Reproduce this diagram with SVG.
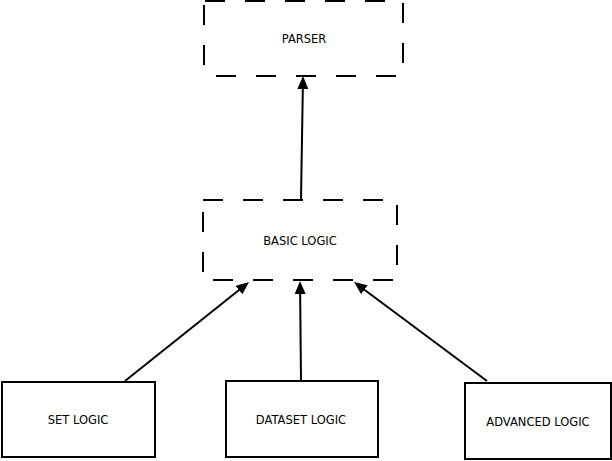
<svg xmlns="http://www.w3.org/2000/svg" width="612" height="461" viewBox="0 0 612 461">
  <style>
    .dash { stroke: #000; stroke-width: 2; fill: none; stroke-dasharray: 20 20; }
    .box { stroke: #000; stroke-width: 2; fill: #fff; }
    .lbl { font-family: "DejaVu Sans", Verdana, sans-serif; font-size: 11.5px; fill: #000; text-anchor: middle; }
    .conn { stroke: #000; stroke-width: 2; fill: none; marker-end: url(#arr); }
  </style>
  <defs>
    <marker id="arr" markerUnits="userSpaceOnUse" markerWidth="13" markerHeight="11" refX="5" refY="5.5" orient="auto">
      <path d="M0,0 L13,5.5 L0,11 Z" fill="#000"/>
    </marker>
  </defs>
  <rect width="612" height="461" fill="#fff"/>

  <g id="parser">
    <line class="dash" x1="204" y1="1" x2="403" y2="1" stroke-dashoffset="-1"/>
    <line class="dash" x1="403" y1="1" x2="403" y2="75" stroke-dashoffset="38"/>
    <line class="dash" x1="204" y1="76" x2="403" y2="76" stroke-dashoffset="28"/>
    <line class="dash" x1="204" y1="1" x2="204" y2="75" stroke-dashoffset="36"/>
    <text class="lbl" x="304" y="43">PARSER</text>
  </g>

  <g id="basic-logic">
    <line class="dash" x1="203" y1="200" x2="397" y2="200"/>
    <line class="dash" x1="397" y1="200" x2="397" y2="280" stroke-dashoffset="35"/>
    <line class="dash" x1="203" y1="280" x2="397" y2="280" stroke-dashoffset="30"/>
    <line class="dash" x1="203" y1="200" x2="203" y2="280" stroke-dashoffset="28"/>
    <text class="lbl" x="300" y="245">BASIC LOGIC</text>
  </g>

  <g id="set-logic">
    <rect class="box" x="2" y="382" width="153" height="75"/>
    <text class="lbl" x="78" y="424">SET LOGIC</text>
  </g>

  <g id="dataset-logic">
    <rect class="box" x="226" y="381" width="152" height="76"/>
    <text class="lbl" x="301" y="424">DATASET LOGIC</text>
  </g>

  <g id="advanced-logic">
    <rect class="box" x="465" y="383" width="146" height="76"/>
    <text class="lbl" x="538" y="426">ADVANCED LOGIC</text>
  </g>

  <g id="connectors">
    <line class="conn" x1="301" y1="199" x2="302.9" y2="84"/>
    <line class="conn" x1="125" y1="381" x2="242.8" y2="287"/>
    <line class="conn" x1="301" y1="380" x2="300.1" y2="289"/>
    <line class="conn" x1="487" y1="381" x2="360.4" y2="286.8"/>
  </g>
</svg>
